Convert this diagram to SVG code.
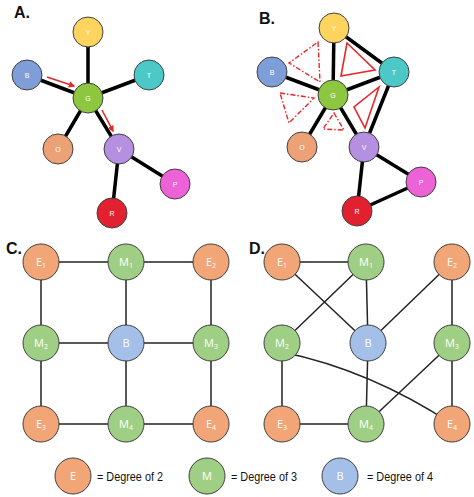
<svg xmlns="http://www.w3.org/2000/svg" width="474" height="497" viewBox="0 0 474 497">
<defs>
<style>
.ttl{font-family:"Liberation Sans",Arial,sans-serif;font-weight:bold;font-size:16px;fill:#111}
.n{stroke:#404040;stroke-width:1}
.sl{font-family:"Liberation Sans",Arial,sans-serif;font-size:7px;fill:#fff;text-anchor:middle}
.bl{font-family:"Open Sans","Liberation Sans",sans-serif;font-size:11px;fill:#fff;text-anchor:middle}
.sub{font-size:7px}
.thick{stroke:#000;stroke-width:3.5;fill:none;stroke-linecap:round}
.thin{stroke:#222;stroke-width:1.5;fill:none}
.red{stroke:#e8262a;stroke-width:1.6;fill:none}
.dash{stroke:#e8262a;stroke-width:1.4;fill:none;stroke-dasharray:5 2 1.5 2}
.leg{font-family:"Liberation Sans",Arial,sans-serif;font-size:12.5px;fill:#111}
.cY{fill:#fcd45e}.cB{fill:#7f9ed8}.cT{fill:#4cc9c6}.cG{fill:#8dc63f}.cO{fill:#eda177}.cV{fill:#b58fe0}.cP{fill:#ee62d8}.cR{fill:#e3202f}
.e{fill:#f2a678}.m{fill:#9fcf85}.b{fill:#a4bfe8}
</style>
<marker id="ah" viewBox="0 0 10 10" refX="8" refY="5" markerWidth="4" markerHeight="4" orient="auto"><path d="M0,0L10,5L0,10z" fill="#e8262a"/></marker>
</defs>
<rect width="474" height="497" fill="#fff"/>
<text class="ttl" x="14" y="18">A.</text>
<text class="ttl" x="259" y="24">B.</text>
<text class="ttl" x="6" y="254">C.</text>
<text class="ttl" x="249" y="254">D.</text>
<g id="connectors">
<!-- A -->
<line class="thick" x1="88" y1="32" x2="88" y2="98"/>
<line class="thick" x1="27" y1="75" x2="88" y2="98"/>
<line class="thick" x1="149" y1="75" x2="88" y2="98"/>
<line class="thick" x1="88" y1="98" x2="58" y2="149"/>
<line class="thick" x1="88" y1="98" x2="119" y2="149"/>
<line class="thick" x1="119" y1="149" x2="175" y2="184"/>
<line class="thick" x1="119" y1="149" x2="112" y2="213"/>
<line class="red" x1="47" y1="77" x2="74" y2="86" marker-end="url(#ah)"/>
<line class="red" x1="102" y1="110" x2="113" y2="131" marker-end="url(#ah)"/>
<!-- B -->
<line class="thick" x1="334" y1="28" x2="333" y2="95"/>
<line class="thick" x1="334" y1="28" x2="394" y2="72"/>
<line class="thick" x1="272" y1="72" x2="333" y2="95"/>
<line class="thick" x1="333" y1="95" x2="394" y2="72"/>
<line class="thick" x1="333" y1="95" x2="302" y2="147"/>
<line class="thick" x1="333" y1="95" x2="364" y2="147"/>
<line class="thick" x1="394" y1="72" x2="364" y2="147"/>
<line class="thick" x1="364" y1="147" x2="421" y2="182"/>
<line class="thick" x1="364" y1="147" x2="357" y2="211"/>
<line class="thick" x1="357" y1="211" x2="421" y2="182"/>
<polygon class="red" points="347,43 375,70 341,76"/>
<polygon class="red" points="379,87 365,128 354,107"/>
<polygon class="dash" points="318,42 320,82 289,63"/>
<polygon class="dash" points="280,93 314,98 289,123"/>
<polygon class="dash" points="334,113 344,130 323,129"/>
<!-- C -->
<line class="thin" x1="41" y1="262" x2="211" y2="262"/>
<line class="thin" x1="41" y1="343" x2="211" y2="343"/>
<line class="thin" x1="41" y1="424" x2="211" y2="424"/>
<line class="thin" x1="41" y1="262" x2="41" y2="424"/>
<line class="thin" x1="126" y1="262" x2="126" y2="424"/>
<line class="thin" x1="211" y1="262" x2="211" y2="424"/>
<!-- D -->
<line class="thin" x1="282" y1="262" x2="366" y2="262"/>
<line class="thin" x1="282" y1="262" x2="368" y2="343"/>
<line class="thin" x1="366" y1="262" x2="282" y2="343"/>
<line class="thin" x1="366" y1="262" x2="368" y2="343"/>
<line class="thin" x1="452" y1="262" x2="368" y2="343"/>
<line class="thin" x1="452" y1="262" x2="452" y2="343"/>
<line class="thin" x1="282" y1="343" x2="282" y2="424"/>
<path class="thin" d="M282,352 Q370,370 452,424"/>
<line class="thin" x1="368" y1="343" x2="366" y2="424"/>
<line class="thin" x1="452" y1="343" x2="366" y2="424"/>
<line class="thin" x1="452" y1="343" x2="452" y2="424"/>
<line class="thin" x1="282" y1="424" x2="366" y2="424"/>
</g>
<g id="A-Y"><circle class="n cY" cx="88" cy="32" r="15"/><text class="sl" x="88" y="35">Y</text></g>
<g id="A-B"><circle class="n cB" cx="27" cy="75" r="15"/><text class="sl" x="27" y="78">B</text></g>
<g id="A-T"><circle class="n cT" cx="149" cy="75" r="15"/><text class="sl" x="149" y="78">T</text></g>
<g id="A-G"><circle class="n cG" cx="88" cy="98" r="15"/><text class="sl" x="88" y="101">G</text></g>
<g id="A-O"><circle class="n cO" cx="58" cy="149" r="15"/><text class="sl" x="58" y="152">O</text></g>
<g id="A-V"><circle class="n cV" cx="119" cy="149" r="15"/><text class="sl" x="119" y="152">V</text></g>
<g id="A-P"><circle class="n cP" cx="175" cy="184" r="15"/><text class="sl" x="175" y="187">P</text></g>
<g id="A-R"><circle class="n cR" cx="112" cy="213" r="15"/><text class="sl" x="112" y="216">R</text></g>

<g id="B-Y"><circle class="n cY" cx="334" cy="28" r="15"/><text class="sl" x="334" y="31">Y</text></g>
<g id="B-B"><circle class="n cB" cx="272" cy="72" r="15"/><text class="sl" x="272" y="75">B</text></g>
<g id="B-T"><circle class="n cT" cx="394" cy="72" r="15"/><text class="sl" x="394" y="75">T</text></g>
<g id="B-G"><circle class="n cG" cx="333" cy="95" r="15"/><text class="sl" x="333" y="98">G</text></g>
<g id="B-O"><circle class="n cO" cx="302" cy="147" r="15"/><text class="sl" x="302" y="150">O</text></g>
<g id="B-V"><circle class="n cV" cx="364" cy="147" r="15"/><text class="sl" x="364" y="150">V</text></g>
<g id="B-P"><circle class="n cP" cx="421" cy="182" r="15"/><text class="sl" x="421" y="185">P</text></g>
<g id="B-R"><circle class="n cR" cx="357" cy="211" r="15"/><text class="sl" x="357" y="214">R</text></g>

<g id="C-E1"><circle class="n e" cx="41" cy="262" r="18"/><text class="bl" x="41" y="266">E<tspan class="sub" dy="2">1</tspan></text></g>
<g id="C-M1"><circle class="n m" cx="126" cy="262" r="18"/><text class="bl" x="126" y="266">M<tspan class="sub" dy="2">1</tspan></text></g>
<g id="C-E2"><circle class="n e" cx="211" cy="262" r="18"/><text class="bl" x="211" y="266">E<tspan class="sub" dy="2">2</tspan></text></g>
<g id="C-M2"><circle class="n m" cx="41" cy="343" r="18"/><text class="bl" x="41" y="347">M<tspan class="sub" dy="2">2</tspan></text></g>
<g id="C-B"><circle class="n b" cx="126" cy="343" r="18"/><text class="bl" x="126" y="347">B</text></g>
<g id="C-M3"><circle class="n m" cx="211" cy="343" r="18"/><text class="bl" x="211" y="347">M<tspan class="sub" dy="2">3</tspan></text></g>
<g id="C-E3"><circle class="n e" cx="41" cy="424" r="18"/><text class="bl" x="41" y="428">E<tspan class="sub" dy="2">3</tspan></text></g>
<g id="C-M4"><circle class="n m" cx="126" cy="424" r="18"/><text class="bl" x="126" y="428">M<tspan class="sub" dy="2">4</tspan></text></g>
<g id="C-E4"><circle class="n e" cx="211" cy="424" r="18"/><text class="bl" x="211" y="428">E<tspan class="sub" dy="2">4</tspan></text></g>

<g id="D-E1"><circle class="n e" cx="282" cy="262" r="18"/><text class="bl" x="282" y="266">E<tspan class="sub" dy="2">1</tspan></text></g>
<g id="D-M1"><circle class="n m" cx="366" cy="262" r="18"/><text class="bl" x="366" y="266">M<tspan class="sub" dy="2">1</tspan></text></g>
<g id="D-E2"><circle class="n e" cx="452" cy="262" r="18"/><text class="bl" x="452" y="266">E<tspan class="sub" dy="2">2</tspan></text></g>
<g id="D-M2"><circle class="n m" cx="282" cy="343" r="18"/><text class="bl" x="282" y="347">M<tspan class="sub" dy="2">2</tspan></text></g>
<g id="D-B"><circle class="n b" cx="368" cy="343" r="18"/><text class="bl" x="368" y="347">B</text></g>
<g id="D-M3"><circle class="n m" cx="452" cy="343" r="18"/><text class="bl" x="452" y="347">M<tspan class="sub" dy="2">3</tspan></text></g>
<g id="D-E3"><circle class="n e" cx="282" cy="424" r="18"/><text class="bl" x="282" y="428">E<tspan class="sub" dy="2">3</tspan></text></g>
<g id="D-M4"><circle class="n m" cx="366" cy="424" r="18"/><text class="bl" x="366" y="428">M<tspan class="sub" dy="2">4</tspan></text></g>
<g id="D-E4"><circle class="n e" cx="452" cy="424" r="18"/><text class="bl" x="452" y="428">E<tspan class="sub" dy="2">4</tspan></text></g>

<g id="legend">
<circle class="n e" cx="73" cy="476" r="18"/><text class="bl" x="73" y="480">E</text>
<text class="leg" x="97" y="481" textLength="66" lengthAdjust="spacingAndGlyphs">= Degree of 2</text>
<circle class="n m" cx="207" cy="476" r="18"/><text class="bl" x="207" y="480">M</text>
<text class="leg" x="231" y="481" textLength="66" lengthAdjust="spacingAndGlyphs">= Degree of 3</text>
<circle class="n b" cx="340" cy="476" r="18"/><text class="bl" x="340" y="480">B</text>
<text class="leg" x="367" y="481" textLength="66" lengthAdjust="spacingAndGlyphs">= Degree of 4</text>
</g>
</svg>
